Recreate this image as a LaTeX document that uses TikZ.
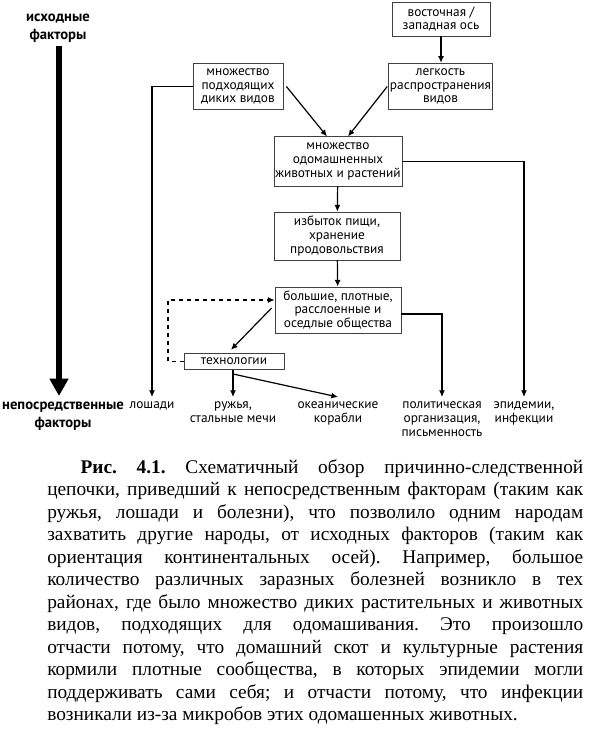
\documentclass[tikz,border=0pt]{standalone}
\usepackage{fontspec}
\setmainfont{Liberation Serif}
\newfontfamily\diagfont{PT Sans}
\usetikzlibrary{arrows.meta,calc}

\tikzset{
  factbox/.style={draw=black!75, line width=0.6pt, inner sep=1pt, align=center,
    font=\diagfont\fontsize{10}{10.2}\selectfont},
  outlabel/.style={anchor=north, inner sep=0.75pt, align=center,
    font=\diagfont\fontsize{10}{10.5}\selectfont},
  headlabel/.style={inner sep=0.75pt, align=center,
    font=\diagfont\bfseries\fontsize{11}{13.5}\selectfont},
  link/.style={line width=0.9pt, -{Latex[length=5pt,width=4.5pt]}},
}

\begin{document}
\begin{tikzpicture}[x=0.75pt,y=0.75pt,yscale=-1,xscale=1]
\useasboundingbox (0,0) rectangle (593,729);

        % left axis: from ultimate to proximate factors
        \node [headlabel] (ultimate) at (58,28.5) {исходные\\факторы};
        \node [headlabel] (proximate) at (63,416.5) {непосредственные\\факторы};
        \draw [line width=4pt, -{Triangle[length=13pt,width=13.5pt]}] (59,46) -- (59,396);

        % boxes
        \node [factbox, minimum width=73.5pt, minimum height=25.5pt] (axis) at (441,19) {восточная /\\западная ось};
        \node [factbox, minimum width=74pt, minimum height=35pt] (ease) at (440.5,86.5) {легкость\\распространения\\видов};
        \node [factbox, minimum width=67.5pt, minimum height=35pt] (wild) at (238,86.5) {множество\\подходящих\\диких видов};
        \node [factbox, minimum width=94.5pt, minimum height=37pt] (dom) at (338,161.5) {множество\\одомашненных\\животных и растений};
        \node [factbox, minimum width=94.5pt, minimum height=36pt] (food) at (337,236) {избыток пищи,\\хранение\\продовольствия};
        \node [factbox, minimum width=94.5pt, minimum height=34.5pt] (soc) at (338,310) {большие, плотные,\\расслоенные и\\оседлые общества};
        \node [factbox, minimum width=75pt, minimum height=12.5pt] (tech) at (234,361.5) {технологии};

        % outcomes
        \node [outlabel] (horses) at (152,400) {лошади};
        \node [outlabel] (guns) at (233,400) {ружья,\\стальные мечи};
        \node [outlabel] (ships) at (338,400) {океанические\\корабли};
        \node [outlabel] (polit) at (442,400) {политическая\\организация,\\письменность};
        \node [outlabel] (epid) at (524,400) {эпидемии,\\инфекции};

        \coordinate (dashcorner) at (168,300);
        \coordinate (techbranch) at (233,374);

        % links
        \draw [link] (axis) -- (axis.south |- ease.north);
        \draw [link] ($(wild.east)+(3,0)$) -- ($(dom.north)+(-11,0)$);
        \draw [link] ($(ease.west)+(-1,0)$) -- ($(dom.north)+(10,0)$);
        \draw [link] (dom) -- (food);
        \draw [link] (food) -- (soc);
        \draw [link] (wild.west) -| ($(horses.north)+(0,-3)$);
        \draw [link] (dom.east) -| ($(epid.north)+(0,-3)$);
        \draw [line width=0.9pt] ($(soc.east)+(0,-11)$) -- ($(soc.east)+(0,-11)$ -| epid.north);
        \draw [link] ($(soc.east)+(0,4)$) -| ($(polit.north)+(0,-3)$);
        \draw [link] ($(soc.west)+(-3,-2)$) -- ($(tech.north)+(-3,-3)$);
        \draw [link, dashed] (tech.west) -| (dashcorner) -- (dashcorner -| soc.west);
        \draw [link] (tech.south -| techbranch) -- ($(guns.north)+(0,-3)$);
        \draw [link] (tech.south -| techbranch) -- (techbranch) -- ($(ships.north)+(0,-3)$);

        % caption
        \node [anchor=north west, inner sep=0pt, text width=402pt, align=justify,
          font=\fontsize{14.5}{16.9}\selectfont] (caption) at (47,459) {\frenchspacing\parindent=25pt\indent
          \textbf{Рис. 4.1.} Схематичный обзор причинно-следственной\linebreak
          цепочки, приведший к непосредственным факторам (таким как\linebreak
          ружья, лошади и болезни), что позволило одним народам\linebreak
          захватить другие народы, от исходных факторов (таким как\linebreak
          ориентация континентальных осей). Например, большое\linebreak
          количество различных заразных болезней возникло в тех\linebreak
          районах, где было множество диких растительных и животных\linebreak
          видов, подходящих для одомашивания. Это произошло\linebreak
          отчасти потому, что домашний скот и культурные растения\linebreak
          кормили плотные сообщества, в которых эпидемии могли\linebreak
          поддерживать сами себя; и отчасти потому, что инфекции\linebreak
          возникали из-за микробов этих одомашенных животных.};
\end{tikzpicture}
\end{document}
